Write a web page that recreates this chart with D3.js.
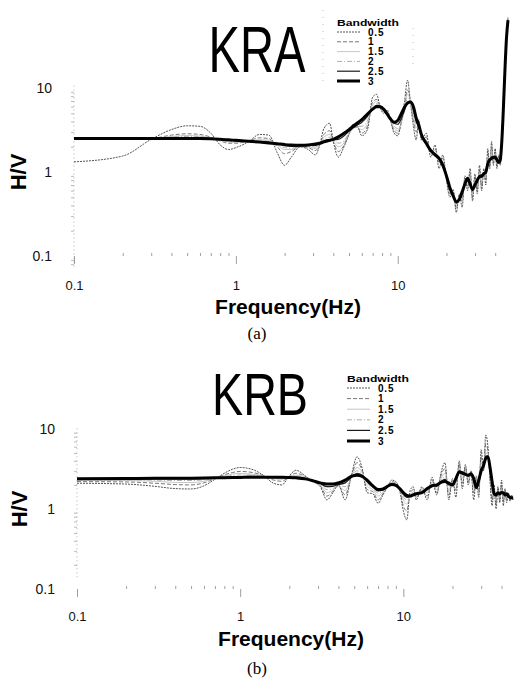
<!DOCTYPE html>
<html>
<head>
<meta charset="utf-8">
<script src="https://cdn.jsdelivr.net/npm/d3@7"></script>
<style>
body { margin: 0; background: #fff; }
svg { display: block; font-family: "Liberation Sans", Arial, sans-serif; }
</style>
</head>
<body>
<script>
// legend entries and axis ticks
const bandwidths = ["0.5", "1", "1.5", "2", "2.5", "3"];
const xTicks = [0.1, 1, 10];
const yTicks = [0.1, 1, 10];

// ---- KRA (a) ----
const kraFreq = [
  0.1, 0.2, 0.3, 0.4, 0.5, 0.6, 0.7, 0.8, 0.9, 1.0,
  1.2, 1.4, 1.6, 1.8, 2.0, 2.2, 2.5, 2.8, 3.1, 3.3,
  3.5, 3.8, 4.0, 4.3, 4.6, 5.0, 5.3, 5.6, 6.0, 6.5,
  7.0, 7.4, 7.8, 8.2, 8.6, 9.0, 9.5, 10, 10.5, 11,
  11.5, 12, 12.5, 13, 13.5, 14, 15, 16, 17, 18,
  19, 20, 21, 22, 23, 24, 25, 26, 27, 28,
  29, 30, 31, 32, 33, 34, 35, 36, 37, 38,
  39, 40, 41, 42, 43, 44, 45, 46, 47, 48
];
const kraBw05 = [
  1.32, 1.55, 2.45, 3.2, 3.55, 3.5, 2.9, 2.1, 1.85, 1.95,
  2.3, 2.8, 2.75, 1.7, 1.2, 1.5, 2.0, 1.85, 1.6, 2.1,
  3.3, 3.8, 2.3, 1.5, 1.9, 2.8, 3.7, 3.6, 2.7, 3.2,
  7.8, 8.4, 5.8, 5.0, 5.5, 4.2, 2.9, 2.7, 3.9, 6.8,
  12.4, 6.5, 3.5, 2.4, 4.2, 2.4, 2.9, 1.5, 2.1, 1.1,
  1.6, 0.8, 0.5, 0.62, 0.33, 0.55, 0.38, 0.9, 0.6, 1.1,
  0.45, 0.95, 0.55, 1.2, 0.6, 1.1, 0.7, 1.9, 1.1, 2.3,
  1.2, 1.9, 1.1, 1.6, 1.2, 2.8, 8, 20, 45, 70
];
const kraBw1 = [
  2.45, 2.45, 2.5, 2.75, 2.85, 2.8, 2.6, 2.35, 2.2, 2.2,
  2.35, 2.55, 2.5, 2.0, 1.65, 1.75, 2.0, 1.95, 1.8, 2.1,
  2.8, 3.1, 2.3, 1.75, 2.0, 2.8, 3.4, 3.4, 2.9, 3.5,
  6.8, 7.3, 6.0, 5.1, 5.2, 4.2, 3.1, 2.9, 3.8, 6.0,
  9.5, 6.8, 4.2, 3.0, 3.8, 2.5, 2.6, 1.7, 1.9, 1.3,
  1.45, 0.85, 0.55, 0.58, 0.37, 0.5, 0.45, 0.82, 0.68, 0.95,
  0.5, 0.88, 0.62, 1.05, 0.68, 1.0, 0.8, 1.65, 1.2, 1.95,
  1.3, 1.75, 1.2, 1.5, 1.3, 2.65, 7.2, 19, 43, 67
];
const kraBw15 = [
  2.47, 2.47, 2.48, 2.65, 2.72, 2.68, 2.55, 2.4, 2.28, 2.25,
  2.32, 2.42, 2.4, 2.1, 1.85, 1.85, 2.0, 2.0, 1.9, 2.15,
  2.6, 2.8, 2.35, 2.0, 2.15, 2.85, 3.3, 3.4, 3.2, 3.8,
  6.3, 6.9, 6.1, 5.3, 5.0, 4.3, 3.3, 3.1, 3.8, 5.6,
  8.5, 7.0, 4.6, 3.4, 3.6, 2.6, 2.4, 1.8, 1.8, 1.4,
  1.35, 0.88, 0.6, 0.55, 0.4, 0.49, 0.5, 0.78, 0.72, 0.88,
  0.55, 0.82, 0.68, 0.98, 0.75, 0.98, 0.85, 1.5, 1.25, 1.8,
  1.35, 1.65, 1.25, 1.45, 1.32, 2.55, 6.8, 18.5, 42, 66
];
const kraBw2 = [
  2.48, 2.48, 2.48, 2.6, 2.65, 2.62, 2.52, 2.42, 2.33, 2.3,
  2.3, 2.35, 2.32, 2.15, 1.95, 1.92, 2.0, 2.03, 1.98, 2.15,
  2.45, 2.6, 2.4, 2.2, 2.3, 2.9, 3.3, 3.5, 3.5, 4.1,
  5.8, 6.5, 6.2, 5.5, 4.9, 4.3, 3.5, 3.3, 3.9, 5.3,
  7.6, 7.0, 5.0, 3.7, 3.4, 2.7, 2.3, 1.85, 1.7, 1.45,
  1.28, 0.9, 0.62, 0.54, 0.42, 0.48, 0.54, 0.75, 0.76, 0.8,
  0.58, 0.77, 0.72, 0.93, 0.8, 0.96, 0.9, 1.4, 1.3, 1.65,
  1.4, 1.6, 1.3, 1.4, 1.35, 2.5, 6.5, 18, 41, 65
];
const kraBw25 = [
  2.5, 2.5, 2.5, 2.55, 2.57, 2.55, 2.5, 2.44, 2.38, 2.35,
  2.31, 2.3, 2.27, 2.18, 2.06, 2.02, 2.04, 2.07, 2.08, 2.18,
  2.35, 2.45, 2.42, 2.45, 2.65, 3.05, 3.35, 3.6, 3.9, 4.6,
  5.6, 6.2, 6.1, 5.6, 4.9, 4.3, 3.8, 3.7, 4.3, 5.4,
  6.8, 6.9, 5.6, 4.0, 3.4, 2.75, 2.2, 1.85, 1.65, 1.45,
  1.22, 0.9, 0.64, 0.53, 0.43, 0.47, 0.56, 0.73, 0.8, 0.76,
  0.6, 0.73, 0.76, 0.9, 0.86, 0.95, 0.96, 1.32, 1.35, 1.52,
  1.45, 1.55, 1.35, 1.35, 1.38, 2.45, 6.2, 17.5, 40.5, 64.5
];
const kraBw3 = [
  2.5, 2.5, 2.5, 2.5, 2.5, 2.5, 2.48, 2.45, 2.42, 2.38,
  2.32, 2.27, 2.22, 2.17, 2.12, 2.09, 2.08, 2.1, 2.15, 2.2,
  2.28, 2.38, 2.45, 2.62, 2.85, 3.2, 3.5, 3.8, 4.2, 4.9,
  5.6, 6.0, 6.0, 5.6, 4.9, 4.3, 3.9, 4.1, 4.9, 5.9,
  6.6, 6.8, 6.0, 4.4, 3.6, 2.8, 2.2, 1.8, 1.6, 1.45,
  1.2, 0.9, 0.65, 0.52, 0.44, 0.47, 0.58, 0.72, 0.84, 0.72,
  0.62, 0.7, 0.8, 0.88, 0.9, 0.95, 1.0, 1.25, 1.4, 1.45,
  1.5, 1.5, 1.4, 1.3, 1.4, 2.4, 6, 17, 40, 64
];

// ---- KRB (b) ----
const krbFreq = [
  0.1, 0.2, 0.3, 0.4, 0.5, 0.6, 0.7, 0.8, 0.9, 1.0,
  1.2, 1.4, 1.6, 1.8, 2.0, 2.2, 2.5, 2.8, 3.1, 3.4,
  3.7, 4.0, 4.4, 4.8, 5.2, 5.6, 6.0, 6.5, 7.0, 7.5,
  8.0, 8.5, 9.0, 9.5, 10, 10.5, 11, 11.5, 12, 13,
  14, 15, 16, 17, 18, 19, 20, 21, 22, 23,
  24, 25, 26, 27, 28, 29, 30, 31, 32, 33,
  34, 35, 36, 37, 38, 39, 40, 41, 42, 43,
  44, 45, 46, 47
];
const krbBw05 = [
  2.1, 2.05, 1.92, 1.8, 1.78, 1.95, 2.35, 2.8, 3.15, 3.3,
  3.1, 2.6, 2.1, 2.0, 2.6, 3.05, 2.6, 2.2, 1.9, 1.3,
  1.6, 2.0, 1.3, 2.6, 4.5, 3.2, 1.6, 1.55, 1.18, 1.5,
  1.9, 2.3, 2.2, 1.7, 0.95, 0.73, 1.7, 1.9, 1.3, 1.9,
  1.3, 2.5, 1.5, 2.8, 3.8, 1.3, 2.4, 1.4, 4.0, 1.8,
  3.6, 2.0, 3.0, 1.3, 2.6, 1.4, 5.5, 3.0, 8.4, 6.0,
  2.2, 1.1, 2.0, 1.0, 1.9, 1.2, 2.3, 1.1, 1.8, 1.2,
  1.6, 1.25, 1.5, 1.3
];
const krbBw1 = [
  2.2, 2.18, 2.1, 2.02, 2.0, 2.12, 2.4, 2.68, 2.86, 2.95,
  2.85, 2.6, 2.3, 2.22, 2.55, 2.8, 2.55, 2.22, 1.95, 1.45,
  1.65, 1.95, 1.5, 2.55, 3.8, 3.0, 1.75, 1.65, 1.3, 1.55,
  1.9, 2.2, 2.1, 1.75, 1.1, 0.95, 1.55, 1.75, 1.4, 1.8,
  1.45, 2.3, 1.6, 2.6, 3.2, 1.5, 2.3, 1.7, 3.6, 2.1,
  3.3, 2.2, 2.9, 1.6, 2.3, 1.7, 4.5, 3.1, 6.5, 5.4,
  2.5, 1.3, 1.8, 1.15, 1.8, 1.3, 2.0, 1.25, 1.7, 1.3,
  1.55, 1.3, 1.45, 1.32
];
const krbBw15 = [
  2.28, 2.27, 2.22, 2.15, 2.14, 2.22, 2.42, 2.6, 2.74, 2.78,
  2.72, 2.58, 2.4, 2.35, 2.55, 2.65, 2.5, 2.22, 2.0, 1.6,
  1.72, 1.92, 1.7, 2.5, 3.3, 2.85, 1.95, 1.75, 1.45, 1.62,
  1.92, 2.15, 2.05, 1.78, 1.3, 1.15, 1.45, 1.65, 1.45, 1.72,
  1.6, 2.15, 1.75, 2.4, 2.8, 1.7, 2.2, 2.0, 3.3, 2.4,
  3.0, 2.4, 2.85, 1.9, 2.1, 1.95, 3.8, 3.2, 5.5, 5.0,
  2.8, 1.6, 1.7, 1.3, 1.7, 1.4, 1.8, 1.4, 1.6, 1.4,
  1.5, 1.35, 1.42, 1.34
];
const krbBw2 = [
  2.32, 2.32, 2.3, 2.27, 2.27, 2.32, 2.42, 2.54, 2.62, 2.66,
  2.64, 2.55, 2.45, 2.42, 2.52, 2.56, 2.45, 2.24, 2.04, 1.75,
  1.8, 1.95, 1.9, 2.5, 3.0, 2.75, 2.1, 1.85, 1.58, 1.68,
  1.92, 2.1, 2.02, 1.8, 1.42, 1.3, 1.45, 1.58, 1.5, 1.68,
  1.7, 2.05, 1.85, 2.28, 2.5, 1.9, 2.1, 2.2, 3.1, 2.6,
  2.85, 2.5, 2.8, 2.1, 2.0, 2.1, 3.4, 3.3, 5.0, 4.8,
  3.0, 1.85, 1.65, 1.4, 1.65, 1.45, 1.7, 1.5, 1.55, 1.45,
  1.48, 1.38, 1.4, 1.35
];
const krbBw25 = [
  2.36, 2.37, 2.38, 2.38, 2.38, 2.4, 2.43, 2.48, 2.52, 2.55,
  2.56, 2.53, 2.48, 2.47, 2.5, 2.5, 2.42, 2.25, 2.08, 1.9,
  1.92, 2.02, 2.12, 2.5, 2.8, 2.65, 2.2, 1.9, 1.68, 1.73,
  1.92, 2.06, 2.0, 1.8, 1.52, 1.4, 1.45, 1.53, 1.52, 1.64,
  1.75, 2.0, 1.92, 2.2, 2.35, 2.0, 2.05, 2.3, 3.0, 2.7,
  2.78, 2.58, 2.78, 2.25, 1.92, 2.2, 3.2, 3.4, 4.6, 4.6,
  3.1, 2.0, 1.6, 1.45, 1.62, 1.5, 1.65, 1.55, 1.52, 1.5,
  1.46, 1.39, 1.39, 1.36
];
const krbBw3 = [
  2.38, 2.4, 2.42, 2.42, 2.43, 2.44, 2.45, 2.46, 2.47, 2.48,
  2.5, 2.5, 2.5, 2.5, 2.48, 2.45, 2.38, 2.25, 2.12, 2.05,
  2.05, 2.12, 2.3, 2.55, 2.65, 2.55, 2.3, 1.95, 1.75, 1.78,
  1.92, 2.02, 1.98, 1.8, 1.6, 1.48, 1.45, 1.5, 1.55, 1.6,
  1.8, 1.95, 2.0, 2.15, 2.2, 2.1, 2.0, 2.4, 2.9, 2.85,
  2.7, 2.65, 2.75, 2.4, 1.85, 2.3, 3.0, 3.5, 4.3, 4.5,
  3.3, 2.2, 1.55, 1.5, 1.6, 1.55, 1.6, 1.6, 1.5, 1.55,
  1.45, 1.4, 1.38, 1.37
];

const W = 514, H = 679;
const svg = d3.select("body").append("svg")
    .attr("width", W)
    .attr("height", H);

// look of each bandwidth line, thin to thick
const lineStyles = [
  { color: "#2a2a2a", width: 0.8, dash: "2,1" },
  { color: "#555", width: 0.8, dash: "4,2" },
  { color: "#b8b8b8", width: 0.8, dash: null },
  { color: "#999", width: 0.8, dash: "5,2,1,2" },
  { color: "#1a1a1a", width: 1.2, dash: null },
  { color: "#000", width: 3, dash: null }
];

const minorVals = [];
[0.01, 0.1, 1, 10].forEach(function(d) {
  for (let k = 2; k <= 9; k++) minorVals.push(+(d * k).toPrecision(3));
});

function drawPanel(p) {
  const g = svg.append("g");

  const x = d3.scaleLog().domain(p.xDomain).range(p.xRange);
  const y = d3.scaleLog().domain([0.1, 10]).range(p.yRange);

  // y axis: faint dotted line with little ticks
  const yAxisMinor = g.append("g")
      .attr("transform", "translate(" + p.xRange[0] + ",0)")
      .call(d3.axisLeft(y)
          .tickValues(minorVals.filter(v => v >= p.yMin && v <= 10))
          .tickSize(3)
          .tickFormat(""));
  yAxisMinor.select(".domain").remove();
  yAxisMinor.selectAll("line").attr("stroke", "#aaa").attr("stroke-width", 0.8);
  g.append("line")
      .attr("x1", p.xRange[0]).attr("x2", p.xRange[0])
      .attr("y1", y(p.yMin)).attr("y2", y(11))
      .attr("stroke", "#999")
      .attr("stroke-width", 0.8)
      .attr("stroke-dasharray", "1,3");

  const yLab = g.append("g")
      .attr("transform", "translate(" + p.xRange[0] + ",0)")
      .call(d3.axisLeft(y).tickValues(yTicks).tickSize(0).tickPadding(22)
          .tickFormat(d3.format("")));
  yLab.select(".domain").remove();
  yLab.selectAll("text")
      .attr("font-size", 14)
      .attr("font-family", "Liberation Sans, Arial, sans-serif")
      .attr("fill", "#111");

  // x axis: only scattered tick marks along the 0.1 line
  const xMinor = g.append("g")
      .attr("transform", "translate(0," + y(0.1) + ")")
      .call(d3.axisBottom(x)
          .tickValues(minorVals.filter(v => v > 0.1 && v <= p.xDomain[1]))
          .tickSize(-3)
          .tickFormat(""));
  xMinor.select(".domain").remove();
  xMinor.selectAll("line").attr("stroke", "#888").attr("stroke-width", 0.8);

  const xLab = g.append("g")
      .attr("transform", "translate(0," + y(0.1) + ")")
      .call(d3.axisBottom(x).tickValues(xTicks).tickSize(p.majorTick).tickPadding(p.labelPad)
          .tickFormat(d3.format("")));
  xLab.select(".domain").remove();
  xLab.selectAll("line").attr("stroke", "#888").attr("stroke-width", 0.8);
  xLab.selectAll("text")
      .attr("font-size", 13)
      .attr("font-family", "Liberation Sans, Arial, sans-serif")
      .attr("fill", "#111");

  // curves
  const line = d3.line()
      .x(d => x(d[0]))
      .y(d => y(d[1]))
      .curve(d3.curveMonotoneX);

  p.series.forEach(function(vals, i) {
    const pts = p.freq.map((f, j) => [f, vals[j]]);
    const st = lineStyles[i];
    g.append("path")
        .datum(pts)
        .attr("d", line)
        .attr("fill", "none")
        .attr("stroke", st.color)
        .attr("stroke-width", st.width)
        .attr("stroke-linejoin", "round")
        .attr("stroke-dasharray", st.dash);
  });

  // station name
  g.append("text")
      .attr("x", p.title.x)
      .attr("y", p.title.y)
      .attr("text-anchor", "middle")
      .attr("font-size", p.title.size)
      .attr("textLength", p.title.len)
      .attr("lengthAdjust", "spacingAndGlyphs")
      .attr("fill", "#000")
      .text(p.name);

  // legend
  const lg = g.append("g").attr("transform", "translate(" + p.legend.x + "," + p.legend.y + ")");
  lg.append("text")
      .attr("x", 0).attr("y", 0)
      .attr("font-size", 9)
      .attr("font-weight", "bold")
      .attr("textLength", 62)
      .attr("lengthAdjust", "spacingAndGlyphs")
      .text("Bandwidth");
  bandwidths.forEach(function(b, i) {
    const yy = 6 + i * p.legend.step;
    const st = lineStyles[i];
    lg.append("line")
        .attr("x1", 0).attr("x2", 23)
        .attr("y1", yy).attr("y2", yy)
        .attr("stroke", st.color)
        .attr("stroke-width", st.width)
        .attr("stroke-dasharray", st.dash);
    lg.append("text")
        .attr("x", 31).attr("y", yy + 3.5)
        .attr("font-size", 10)
        .attr("font-weight", "bold")
        .attr("letter-spacing", 0.8)
        .text(b);
  });

  // axis titles
  g.append("text")
      .attr("x", p.xTitle.x)
      .attr("y", p.xTitle.y)
      .attr("text-anchor", "middle")
      .attr("font-size", 21)
      .attr("font-weight", "bold")
      .text("Frequency(Hz)");
  g.append("text")
      .attr("transform", "translate(" + p.yTitle.x + "," + p.yTitle.y + ") rotate(-90)")
      .attr("text-anchor", "middle")
      .attr("font-size", 22)
      .attr("font-weight", "bold")
      .text("H/V");

  g.append("text")
      .attr("x", 257)
      .attr("y", p.caption.y)
      .attr("text-anchor", "middle")
      .attr("font-family", "Liberation Serif, Times New Roman, serif")
      .attr("font-size", 17)
      .text(p.caption.text);

  return g;
}

const panelA = drawPanel({
  name: "KRA",
  freq: kraFreq,
  series: [kraBw05, kraBw1, kraBw15, kraBw2, kraBw25, kraBw3],
  xDomain: [0.1, 48], xRange: [74, 508],
  yRange: [256, 88], yMin: 0.075,
  majorTick: 8, labelPad: 17,
  title: { x: 257, y: 72, size: 64, len: 97 },
  legend: { x: 337, y: 26, step: 9.8 },
  xTitle: { x: 288, y: 314 },
  yTitle: { x: 26, y: 172 },
  caption: { y: 339, text: "(a)" }
});

// faint dotted frame pieces around the KRA legend
[[323, 10, 86], [413, 28, 64]].forEach(function(s) {
  panelA.append("line")
      .attr("x1", s[0]).attr("x2", s[0])
      .attr("y1", s[1]).attr("y2", s[2])
      .attr("stroke", "#aaa")
      .attr("stroke-width", 0.8)
      .attr("stroke-dasharray", "1,6");
});

const panelB = drawPanel({
  name: "KRB",
  freq: krbFreq,
  series: [krbBw05, krbBw1, krbBw15, krbBw2, krbBw25, krbBw3],
  xDomain: [0.1, 47], xRange: [77, 513],
  yRange: [589, 429], yMin: 0.14,
  majorTick: 8, labelPad: 15,
  title: { x: 260, y: 415, size: 60, len: 96 },
  legend: { x: 347, y: 382, step: 10.6 },
  xTitle: { x: 291, y: 646 },
  yTitle: { x: 27, y: 509 },
  caption: { y: 674, text: "(b)" }
});
</script>
</body>
</html>
